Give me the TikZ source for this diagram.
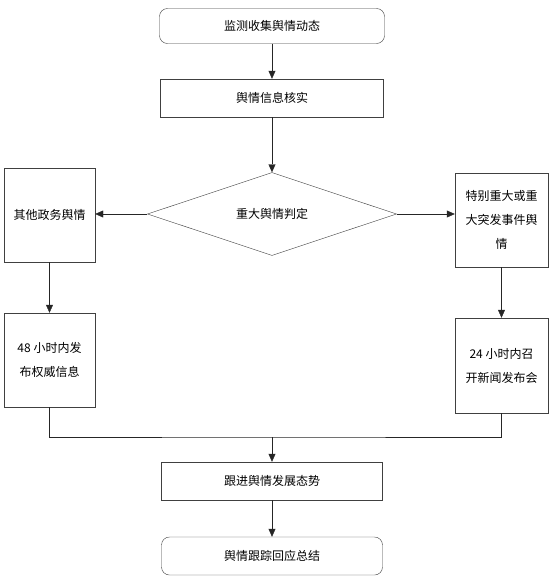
\documentclass[tikz,border=0pt]{standalone}
\usepackage{fontspec}
\newfontfamily\cjk{Noto Sans CJK SC}
\usetikzlibrary{shapes.geometric,arrows.meta}
\begin{document}
\begin{tikzpicture}[x=1pt,y=-1pt,
	box/.style={draw=black!75, fill=white, align=center, inner sep=0pt, font=\cjk\fontsize{12}{24}\selectfont},
	roundbox/.style={box, rounded corners=8pt},
	arr/.style={-{Triangle[width=7pt,length=8pt]}, draw=black!85}]
\useasboundingbox (0,0) rectangle (554,581);
\node[roundbox, minimum width=225pt, minimum height=35pt] (watch) at (272,26) {监测收集舆情动态};
\node[box, minimum width=223pt, minimum height=38pt] (check) at (272,98) {舆情信息核实};
\node[box, diamond, aspect=3, minimum width=249pt, minimum height=83pt] (judge) at (272,214) {重大舆情判定};
\node[box, minimum width=91pt, minimum height=94pt] (other) at (49.5,215) {其他政务舆情};
\node[box, minimum width=93pt, minimum height=94pt] (major) at (501.5,220) {特别重大或重\\大突发事件舆\\情};
\node[box, minimum width=91pt, minimum height=94pt] (pub48) at (49.5,360) {48 小时内发\\布权威信息};
\node[box, minimum width=93pt, minimum height=95pt] (press24) at (501.5,365.5) {24 小时内召\\开新闻发布会};
\node[box, minimum width=221pt, minimum height=38pt] (follow) at (272,481) {跟进舆情发展态势};
\node[roundbox, minimum width=221pt, minimum height=38pt] (summary) at (272,556) {舆情跟踪回应总结};
\coordinate (join) at (272,437);
\foreach \a/\b in {watch/check, check/judge, other/pub48, major/press24, follow/summary} {\draw[arr] (\a.south) -- (\b.north);}
\draw[arr] (judge.west) -- (judge.west -| other.east);
\draw[arr] (judge.east) -- (judge.east -| major.west);
\draw[draw=black!85] (pub48.south) |- (join) -| (press24.south);
\draw[arr] (join) -- (follow.north);
\end{tikzpicture}
\end{document}
